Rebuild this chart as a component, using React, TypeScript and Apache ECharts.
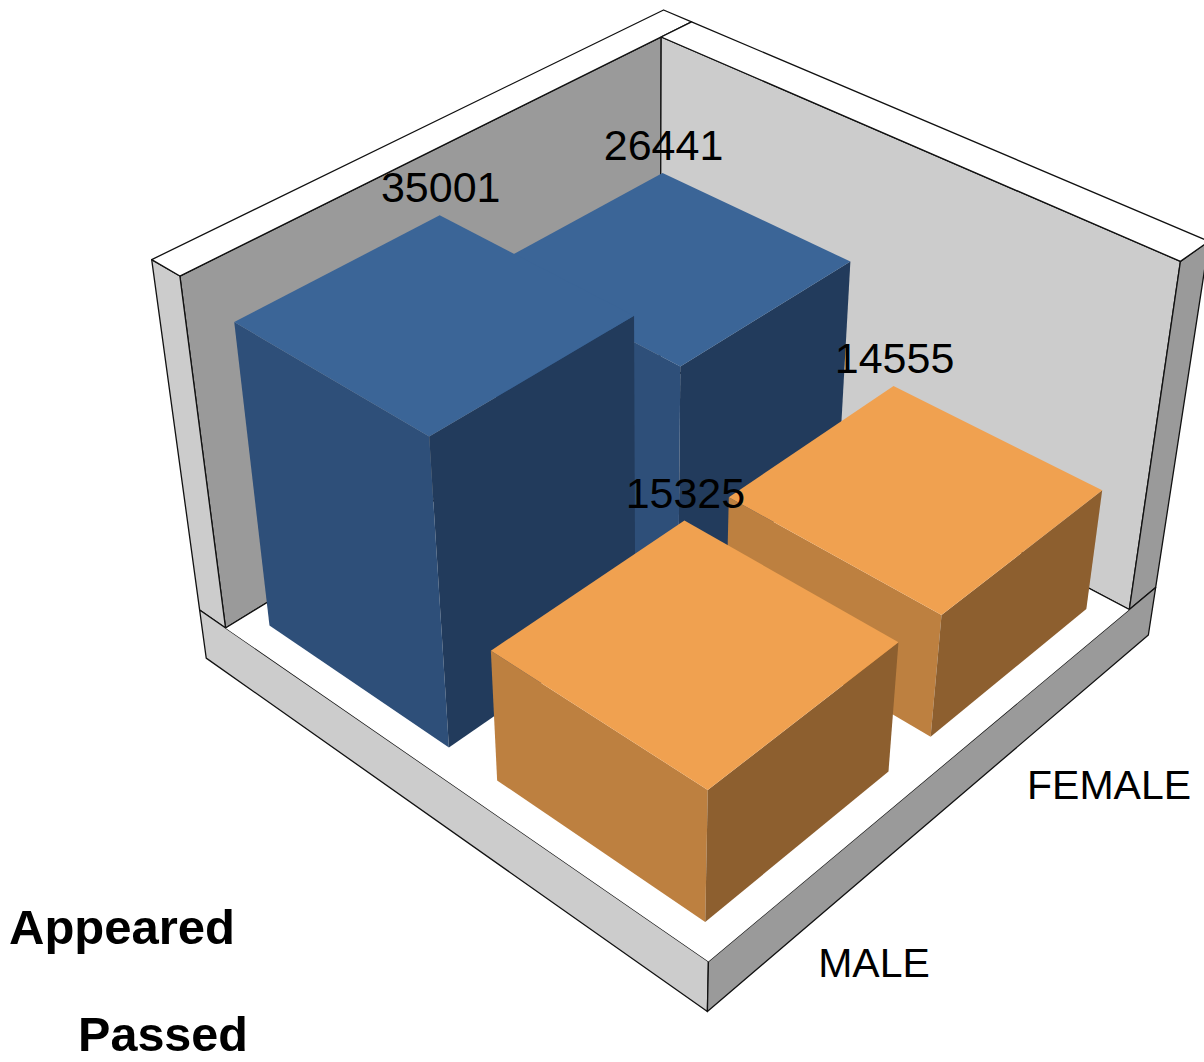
import React, { useEffect, useRef } from "react";
import * as echarts from "echarts";

const categories = ["MALE", "FEMALE"];
const seriesOrder = ["Passed", "Appeared"];
const appearedValues = [35001, 26441];
const passedValues = [15325, 14555];
const axisMax = 40000;

const FONT = '"Liberation Sans", Arial, sans-serif';
const GRID = 1000;
const barFill = 0.8;
const bandSpan = 1.01;

// Homogeneous camera matrix fitted to the box: world (u, v, z) to page pixels
const camX = [618.305264, -444.544009, -73.286516, 708.42333];
const camY = [-242.570501, -231.771697, -439.484766, 961.494511];
const camW = [0.176677, 0.159449, -0.113085, 1];

function project(u: number, v: number, z: number): number[] {
  const w = camW[0] * u + camW[1] * v + camW[2] * z + camW[3];
  return [
    (camX[0] * u + camX[1] * v + camX[2] * z + camX[3]) / w,
    (camY[0] * u + camY[1] * v + camY[2] * z + camY[3]) / w,
  ];
}

const poly = (points: number[][], fill: string, stroke?: string, z2 = 0) => ({
  type: "polygon",
  z2,
  silent: true,
  shape: { points },
  style: stroke ? { fill, stroke, lineWidth: 1.3, lineJoin: "round" } : { fill, stroke: "none" },
});

function boxFaces(
  u0: number, u1: number, v0: number, v1: number, z0: number, z1: number,
  faceU: string, faceV: string, top: string, stroke: string | undefined, z2: number,
) {
  return [
    poly([project(u0, v0, z0), project(u0, v1, z0), project(u0, v1, z1), project(u0, v0, z1)], faceU, stroke, z2),
    poly([project(u0, v0, z0), project(u1, v0, z0), project(u1, v0, z1), project(u0, v0, z1)], faceV, stroke, z2),
    poly([project(u0, v0, z1), project(u1, v0, z1), project(u1, v1, z1), project(u0, v1, z1)], top, stroke, z2),
  ];
}

const GREY_L = "#cccccc";
const GREY_D = "#9a9a9a";
const EDGE = "#111111";
const IN = 1.005;
const U_OUT = 1.08;
const V_OUT = 1.068;
const SLAB = -0.154;

function renderFrame() {
  const children = [
    poly([project(0, IN, 0), project(IN, IN, 0), project(IN, IN, 1), project(0, IN, 1)], GREY_D, EDGE, 1),
    poly([project(IN, 0, 0), project(IN, IN, 0), project(IN, IN, 1), project(IN, 0, 1)], GREY_L, EDGE, 1),
    poly([project(0, IN, 0), project(0, V_OUT, 0), project(0, V_OUT, 1), project(0, IN, 1)], GREY_L, EDGE, 1),
    poly([project(0, IN, 1), project(U_OUT, IN, 1), project(U_OUT, V_OUT, 1), project(0, V_OUT, 1)], "#ffffff", EDGE, 1),
    poly([project(IN, 0, 0), project(U_OUT, 0, 0), project(U_OUT, 0, 1), project(IN, 0, 1)], GREY_D, EDGE, 1),
    poly([project(IN, 0, 1), project(U_OUT, 0, 1), project(U_OUT, IN, 1), project(IN, IN, 1)], "#ffffff", EDGE, 1),
    poly([project(0, 0, 0), project(0, V_OUT, 0), project(0, V_OUT, SLAB), project(0, 0, SLAB)], GREY_L, EDGE, 2),
    poly([project(0, 0, 0), project(U_OUT, 0, 0), project(U_OUT, 0, SLAB), project(0, 0, SLAB)], GREY_D, EDGE, 2),
    poly([project(0, 0, 0), project(IN, 0, 0), project(IN, IN, 0), project(0, IN, 0)], "#ffffff", undefined, 2),
    {
      type: "polyline", z2: 3, silent: true,
      shape: { points: [project(0, IN, 0), project(IN, IN, 0), project(IN, 0, 0)] },
      style: { fill: "none", stroke: EDGE, lineWidth: 1.3 },
    },
  ];
  return { type: "group", children };
}

function barRenderer(seriesName: string, faceU: string, faceV: string, top: string, baseZ: number) {
  const vIndex = seriesOrder.indexOf(seriesName);
  return (_params: any, api: any) => {
    const cat = api.value(0);
    const val = api.value(1);
    const [cx, cy] = api.coord([cat, val]);
    const band = api.size([1, 0])[0];
    const half = (band * barFill) / 2;
    const u0 = ((cx - half) / GRID) * bandSpan;
    const u1 = ((cx + half) / GRID) * bandSpan;
    const vc = (vIndex + 0.5) / seriesOrder.length;
    const vHalf = barFill / seriesOrder.length / 2;
    const v0 = (vc - vHalf) * bandSpan;
    const v1 = (vc + vHalf) * bandSpan;
    const z = (GRID - cy) / GRID;
    const faces = boxFaces(u0, u1, v0, v1, 0, z, faceU, faceV, top, undefined, baseZ + 2 * (1 - cat));
    const corner = project(u1, v1, z);
    return {
      type: "group",
      children: [
        ...faces,
        {
          type: "text",
          z2: 100,
          silent: true,
          style: {
            text: String(val),
            x: corner[0] + 1,
            y: corner[1] - 28,
            textAlign: "center",
            textVerticalAlign: "middle",
            fontFamily: FONT,
            fontSize: 43,
            fill: "#000000",
          },
        },
      ],
    };
  };
}

const backToFront = [1, 0];

const text = (t: string, x: number, y: number, size: number, weight: string) => ({
  type: "text",
  x,
  y,
  silent: true,
  style: {
    text: t,
    textAlign: "center",
    textVerticalAlign: "middle",
    fontFamily: FONT,
    fontSize: size,
    fontWeight: weight,
    fill: "#000000",
  },
});

export default function App() {
  const ref = useRef<HTMLDivElement>(null);
  useEffect(() => {
    document.body.style.margin = "0";
    const chart = echarts.init(ref.current!, undefined, { renderer: "svg" });
    chart.setOption({
      animation: false,
      backgroundColor: "#ffffff",
      grid: { left: 0, top: 0, width: GRID, height: GRID, containLabel: false },
      xAxis: { type: "category", data: categories, show: false },
      yAxis: { type: "value", min: 0, max: axisMax, show: false },
      series: [
        {
          type: "custom",
          name: "frame",
          coordinateSystem: "none",
          data: [[0]],
          silent: true,
          renderItem: renderFrame,
        },
        {
          type: "custom",
          name: "Appeared",
          silent: true,
          encode: { x: 0, y: 1 },
          data: backToFront.map((i) => [i, appearedValues[i]]),
          renderItem: barRenderer("Appeared", "#2e4f79", "#223b5c", "#3b6597", 10),
        },
        {
          type: "custom",
          name: "Passed",
          silent: true,
          encode: { x: 0, y: 1 },
          data: backToFront.map((i) => [i, passedValues[i]]),
          renderItem: barRenderer("Passed", "#bd8040", "#8d5f2f", "#f0a150", 20),
        },
      ],
      graphic: [
        text(categories[0], 874, 963, 41, "normal"),
        text(categories[1], 1109, 785, 41, "normal"),
        text(seriesOrder[1], 122, 927, 49, "bold"),
        text(seriesOrder[0], 163, 1034, 48.5, "bold"),
      ],
    });
    return () => chart.dispose();
  }, []);
  return <div ref={ref} style={{ position: "fixed", left: 0, top: 0, width: 1204, height: 1062 }} />;
}
